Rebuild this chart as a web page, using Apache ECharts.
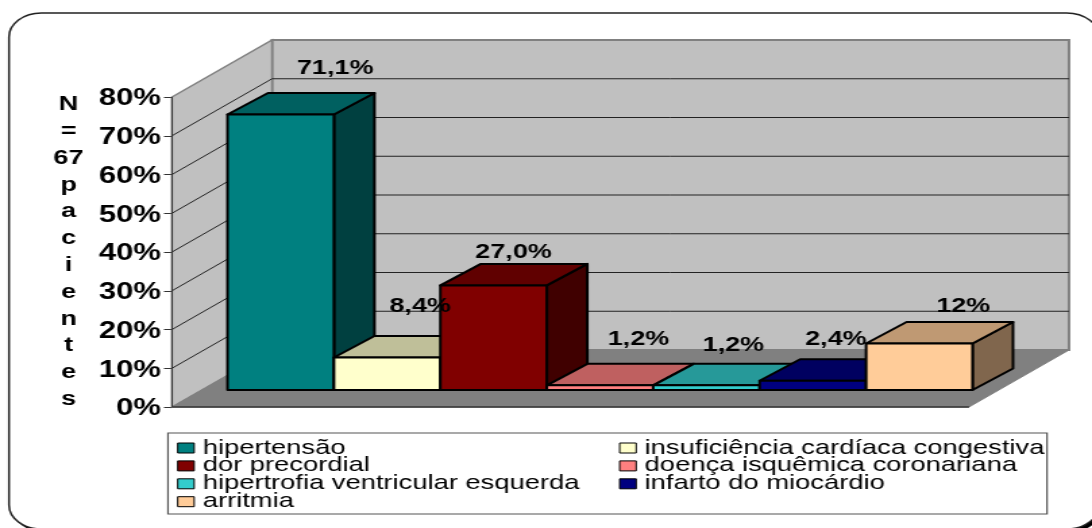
<!DOCTYPE html>
<html>
<head>
<meta charset="utf-8">
<script src="https://cdn.jsdelivr.net/npm/echarts@6/dist/echarts.min.js"></script>
<style>
html,body{margin:0;padding:0;background:#fff;overflow:hidden;width:1092px;height:528px}
/* The reference is a horizontally stretched picture, so the whole chart is stretched too */
#c{position:absolute;left:0;top:0;width:809px;height:528px;transform:scaleX(1.34982);transform-origin:0 0}
</style>
</head>
<body>
<div id="c"></div>
<script>
const categories = ['hipertensão','insuficiência cardíaca congestiva','dor precordial','doença isquêmica coronariana','hipertrofia ventricular esquerda','infarto do miocárdio','arritmia'];
const values = [71.1, 8.4, 27.0, 1.2, 1.2, 2.4, 12];
const valueLabels = ['71,1%','8,4%','27,0%','1,2%','1,2%','2,4%','12%'];
const yTicks = [0,10,20,30,40,50,60,70,80];
const yTitleLines = ['N','=','67','p','a','c','i','e','n','t','e','s'];
const leftLegend = ['hipertensão','dor precordial','hipertrofia ventricular esquerda','arritmia'];
const rightLegend = ['insuficiência cardíaca congestiva','doença isquêmica coronariana','infarto do miocárdio'];

const frontColors = ['#008080','#ffffcc','#800000','#ff8080','#33cccc','#000080','#ffcc99'];
const topColors   = ['#006060','#bfbf99','#600000','#bf6060','#269999','#000060','#bf9973'];
const sideColors  = ['#004040','#808066','#400000','#804040','#1a6666','#000040','#80664d'];
const labelShifts = [[54.5,-46],[33,-50.5],[20,-33],[38.5,-46],[27,-40],[23,-41.5],[44,-37.5]];

const S = 1092/809;
const px = v => v/S;
const FLOOR_W = px(797), WALL_DX = px(100), WALL_DY = 57, AXIS_GAP = px(25);
const BAR_OX = px(30.5), BAR_OY = 17, BAR_DX = px(40.5), BAR_DY = 21.5;

function wallsItem(params, api){
  const cs = params.coordSys;
  const x0 = cs.x - AXIS_GAP, x1 = x0 + FLOOR_W;
  const y0 = api.coord([0,0])[1], yT = api.coord([0,yTicks[yTicks.length-1]])[1];
  const bx0 = x0+WALL_DX, bx1 = x1+WALL_DX;
  const kids = [
    {type:'polygon',shape:{points:[[bx0,yT-WALL_DY],[bx1,yT-WALL_DY],[bx1,y0-WALL_DY],[bx0,y0-WALL_DY]]},style:{fill:'#c0c0c0',stroke:'#808080',lineWidth:2}},
    {type:'polygon',shape:{points:[[x0,yT],[bx0,yT-WALL_DY],[bx0,y0-WALL_DY],[x0,y0]]},style:{fill:'#c0c0c0',stroke:'#808080',lineWidth:1.5}},
    {type:'polygon',shape:{points:[[x0,y0],[bx0,y0-WALL_DY],[bx1,y0-WALL_DY],[x1,y0]]},style:{fill:'#808080',stroke:'#808080',lineWidth:1}},
    {type:'line',shape:{x1:x0,y1:y0,x2:x1,y2:y0},style:{stroke:'#333',lineWidth:1.5}},
    {type:'line',shape:{x1:x0,y1:yT,x2:x0,y2:y0},style:{stroke:'#333',lineWidth:1}}
  ];
  yTicks.forEach(t=>{
    if(t===0||t===yTicks[yTicks.length-1]) return;
    const y = api.coord([0,t])[1];
    kids.push({type:'polyline',shape:{points:[[x0,y],[bx0,y-WALL_DY],[bx1,y-WALL_DY]]},style:{stroke:'#222',lineWidth:1,fill:'none'}});
  });
  return {type:'group',children:kids};
}

function barItem(params, api){
  const i = api.value(0), v = api.value(1);
  const w = api.size([1,0])[0];
  const base = api.coord([i,0]), top = api.coord([i,v]);
  const l = base[0]-w/2+BAR_OX, r = l+w;
  const b = base[1]-BAR_OY, t = top[1]-BAR_OY;
  const st = fill => ({fill,stroke:'#000',lineWidth:2,lineJoin:'round'});
  const sh = labelShifts[i];
  return {type:'group',children:[
    {type:'polygon',shape:{points:[[r,t],[r+BAR_DX,t-BAR_DY],[r+BAR_DX,b-BAR_DY],[r,b]]},style:st(sideColors[i])},
    {type:'polygon',shape:{points:[[l,t],[l+BAR_DX,t-BAR_DY],[r+BAR_DX,t-BAR_DY],[r,t]]},style:st(topColors[i])},
    {type:'rect',shape:{x:l,y:t,width:w,height:b-t},style:st(frontColors[i])},
    {type:'text',z2:100,x:(l+r)/2+px(sh[0]),y:t+sh[1],style:{text:valueLabels[i],fill:'#000',font:'bold 20px "Liberation Sans", Arial, sans-serif',align:'center',verticalAlign:'middle'}}
  ]};
}

const series = [{type:'custom',name:'__walls',silent:true,clip:false,coordinateSystem:'cartesian2d',data:[[0,0]],renderItem:wallsItem,encode:{x:0,y:1}}];
categories.forEach((name,i)=>{
  series.push({type:'custom',name,silent:true,clip:false,coordinateSystem:'cartesian2d',
    itemStyle:{color:frontColors[i]},data:[[i,values[i]]],encode:{x:0,y:1},renderItem:barItem});
});

const legendBase = {orient:'vertical',top:438,padding:0,itemWidth:px(16.5),itemHeight:10,itemGap:-2.1,icon:'rect',
  selectedMode:false,itemStyle:{borderColor:'#000',borderWidth:1},
  textStyle:{color:'#000',fontFamily:'"Liberation Sans", Arial, sans-serif',fontSize:20.25,lineHeight:17,padding:[0,0,0,1.3]}};

const chart = echarts.init(document.getElementById('c'));
chart.setOption({
  animation:false,
  backgroundColor:'#fff',
  graphic:[
    {type:'rect',z:-3,silent:true,shape:{x:px(12),y:16,width:px(1090),height:516,r:24},style:{fill:'#000'}},
    {type:'rect',z:-2,silent:true,shape:{x:px(9),y:13,width:px(1090),height:516,r:24},style:{fill:'#fff',stroke:'#222',lineWidth:1.5}},
    {type:'rect',z:-1,silent:true,shape:{x:px(168),y:433,width:px(879),height:81},style:{fill:'#fff',stroke:'#555',lineWidth:1.2}}
  ],
  grid:{left:px(197),width:px(745),top:97,height:310,containLabel:false},
  xAxis:{type:'category',data:categories,show:false},
  yAxis:{type:'value',min:0,max:80,interval:10,offset:AXIS_GAP,
    name:yTitleLines.join('\n'),nameLocation:'middle',nameGap:px(103.5),nameRotate:0,
    nameTextStyle:{color:'#000',align:'center',fontFamily:'"Liberation Sans", Arial, sans-serif',fontWeight:'bold',fontSize:20,lineHeight:26.8},
    axisLine:{show:true,lineStyle:{color:'#333',width:1}},
    axisTick:{show:true,length:px(8),lineStyle:{color:'#333',width:1}},
    axisLabel:{formatter:'{t|{value}%}',margin:px(11),color:'#000',
      rich:{t:{padding:[4,0,0,0],color:'#000',fontFamily:'"Liberation Sans", Arial, sans-serif',fontWeight:'bold',fontSize:23}}},
    splitLine:{show:false}},
  legend:[
    Object.assign({},legendBase,{left:px(177),data:leftLegend}),
    Object.assign({},legendBase,{left:px(619),data:rightLegend})
  ],
  series
});
</script>
</body>
</html>
